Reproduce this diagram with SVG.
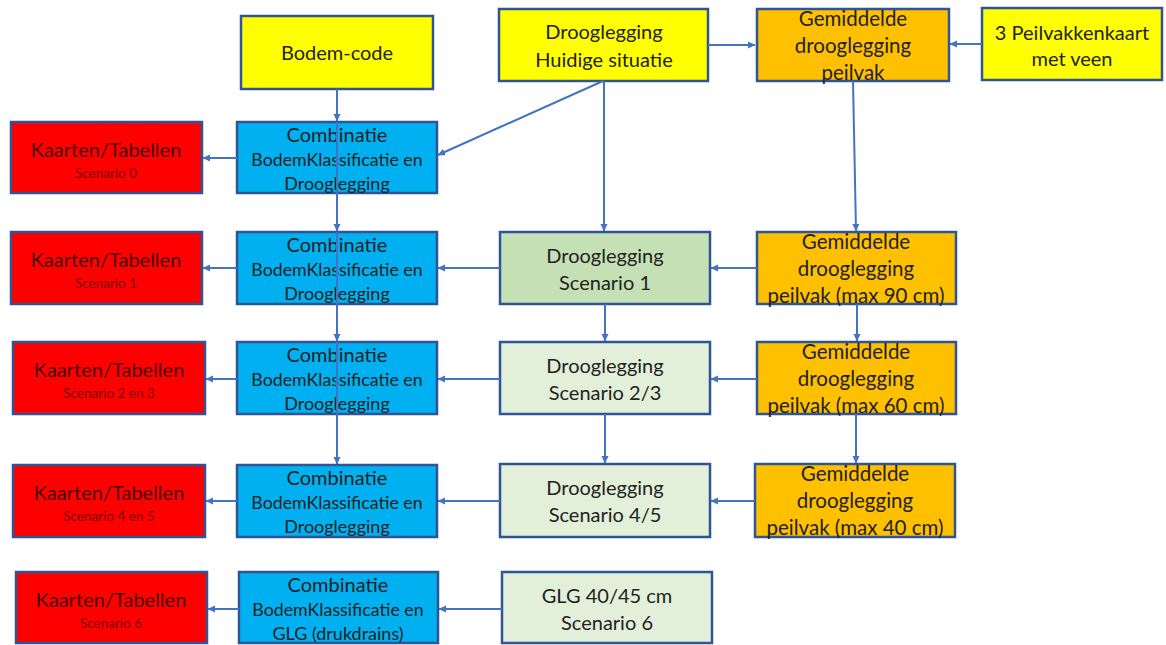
<svg xmlns="http://www.w3.org/2000/svg" width="1166" height="645" viewBox="0 0 1166 645">
<defs>
<marker id="ah" markerWidth="8" markerHeight="8" refX="7" refY="4" orient="auto" markerUnits="userSpaceOnUse">
<path d="M0,0.5 L7.5,4 L0,7.5 Z" fill="#4472C4"/>
</marker>
<style>
rect{stroke:#2F5597;stroke-width:2.5}
.y{fill:#FFFF00}.o{fill:#FFC000}.b{fill:#00B0F0}.r{fill:#FF0000}.g1{fill:#C5E0B4}.g2{fill:#E2F0D9}
text{font-family:Lato,"Liberation Sans",sans-serif;text-anchor:middle;fill:#222222}
.t18{font-size:20px}.t19{font-size:20px}.t16{font-size:17.8px}.t17{font-size:18px}.to{font-size:20.5px}
.kt{font-size:20px;fill:#4a0000}.ks{font-size:13.5px;fill:#7a0000}
.c path,.c line{stroke:#4472C4;stroke-width:2;fill:none;marker-end:url(#ah)}
</style>
</defs>
<rect width="1166" height="645" fill="#ffffff" style="stroke:none"/>

<g id="bodemcode"><rect class="y" x="241" y="16" width="192" height="73"/><text class="t18" x="337" y="60">Bodem-code</text></g>
<g id="droog_huidig"><rect class="y" x="499" y="9" width="209" height="72"/><text class="t18" x="604" y="39">Drooglegging</text><text class="t18" x="604" y="67">Huidige situatie</text></g>
<g id="gem_peilvak"><rect class="o" x="757" y="9" width="192" height="72"/><text class="to" x="853" y="26">Gemiddelde</text><text class="to" x="853" y="53">drooglegging</text><text class="to" x="853" y="80">peilvak</text></g>
<g id="peilvakkenkaart"><rect class="y" x="982" y="8" width="180" height="72"/><text class="t18" x="1072" y="40">3 Peilvakkenkaart</text><text class="t18" x="1072" y="66">met veen</text></g>

<g id="kaart0"><rect class="r" x="11" y="122" width="191" height="71"/><text class="kt" x="106" y="157">Kaarten/Tabellen</text><text class="ks" x="106" y="178">Scenario 0</text></g>
<g id="comb0"><rect class="b" x="237" y="122" width="200" height="71"/><text class="t19" x="337" y="142">Combinatie</text><text class="t16" x="337" y="166">BodemKlassificatie en</text><text class="t17" x="337" y="190">Drooglegging</text></g>

<g id="kaart1"><rect class="r" x="11" y="232" width="191" height="72"/><text class="kt" x="106" y="267">Kaarten/Tabellen</text><text class="ks" x="106" y="288">Scenario 1</text></g>
<g id="comb1"><rect class="b" x="237" y="232" width="200" height="72"/><text class="t19" x="337" y="252">Combinatie</text><text class="t16" x="337" y="276">BodemKlassificatie en</text><text class="t17" x="337" y="300">Drooglegging</text></g>
<g id="droog1"><rect class="g1" x="500" y="232" width="210" height="72"/><text class="t18" x="605" y="263">Drooglegging</text><text class="t18" x="605" y="290">Scenario 1</text></g>
<g id="gem90"><rect class="o" x="757" y="232" width="199" height="72"/><text class="to" x="856" y="249">Gemiddelde</text><text class="to" x="856" y="276">drooglegging</text><text class="to" x="856" y="303">peilvak (max 90 cm)</text></g>

<g id="kaart2"><rect class="r" x="13" y="342" width="192" height="72"/><text class="kt" x="109" y="377">Kaarten/Tabellen</text><text class="ks" x="109" y="398">Scenario 2 en 3</text></g>
<g id="comb2"><rect class="b" x="237" y="342" width="200" height="72"/><text class="t19" x="337" y="362">Combinatie</text><text class="t16" x="337" y="386">BodemKlassificatie en</text><text class="t17" x="337" y="410">Drooglegging</text></g>
<g id="droog23"><rect class="g2" x="500" y="342" width="210" height="72"/><text class="t18" x="605" y="373">Drooglegging</text><text class="t18" x="605" y="400">Scenario 2/3</text></g>
<g id="gem60"><rect class="o" x="757" y="342" width="199" height="72"/><text class="to" x="856" y="359">Gemiddelde</text><text class="to" x="856" y="386">drooglegging</text><text class="to" x="856" y="413">peilvak (max 60 cm)</text></g>

<g id="kaart3"><rect class="r" x="13" y="465" width="192" height="72"/><text class="kt" x="109" y="500">Kaarten/Tabellen</text><text class="ks" x="109" y="521">Scenario 4 en 5</text></g>
<g id="comb3"><rect class="b" x="237" y="465" width="200" height="72"/><text class="t19" x="337" y="485">Combinatie</text><text class="t16" x="337" y="509">BodemKlassificatie en</text><text class="t17" x="337" y="533">Drooglegging</text></g>
<g id="droog45"><rect class="g2" x="500" y="464" width="210" height="73"/><text class="t18" x="605" y="495">Drooglegging</text><text class="t18" x="605" y="522">Scenario 4/5</text></g>
<g id="gem40"><rect class="o" x="755" y="464" width="200" height="73"/><text class="to" x="855" y="481">Gemiddelde</text><text class="to" x="855" y="508">drooglegging</text><text class="to" x="855" y="535">peilvak (max 40 cm)</text></g>

<g id="kaart4"><rect class="r" x="16" y="572" width="191" height="71"/><text class="kt" x="111" y="607">Kaarten/Tabellen</text><text class="ks" x="111" y="628">Scenario 6</text></g>
<g id="comb4"><rect class="b" x="239" y="572" width="199" height="71"/><text class="t19" x="338" y="592">Combinatie</text><text class="t16" x="338" y="616">BodemKlassificatie en</text><text class="t17" x="338" y="640">GLG (drukdrains)</text></g>
<g id="glg"><rect class="g2" x="502" y="572" width="210" height="71"/><text class="t18" x="607" y="603">GLG 40/45 cm</text><text class="t18" x="607" y="630">Scenario 6</text></g>

<g id="connectors" class="c">
<line x1="708" y1="45" x2="755" y2="45"/>
<line x1="982" y1="44" x2="950" y2="44"/>
<line x1="603" y1="81" x2="438" y2="155"/>
<line x1="604" y1="81" x2="604" y2="231"/>
<line x1="853" y1="81" x2="856" y2="231"/>
<line x1="337" y1="89" x2="337" y2="121"/>
<line x1="337" y1="122" x2="337" y2="231"/>
<line x1="337" y1="232" x2="337" y2="341"/>
<line x1="337" y1="342" x2="337" y2="464"/>
<line x1="237" y1="158" x2="203" y2="158"/>
<line x1="757" y1="268" x2="711" y2="268"/>
<line x1="500" y1="268" x2="438" y2="268"/>
<line x1="237" y1="268" x2="203" y2="268"/>
<line x1="605" y1="304" x2="605" y2="341"/>
<line x1="857" y1="304" x2="857" y2="341"/>
<line x1="757" y1="379" x2="711" y2="379"/>
<line x1="500" y1="379" x2="438" y2="379"/>
<line x1="237" y1="379" x2="206" y2="379"/>
<line x1="605" y1="414" x2="605" y2="463"/>
<line x1="856" y1="414" x2="856" y2="463"/>
<line x1="755" y1="501" x2="711" y2="501"/>
<line x1="500" y1="501" x2="438" y2="501"/>
<line x1="237" y1="501" x2="206" y2="501"/>
<line x1="502" y1="609" x2="439" y2="609"/>
<line x1="239" y1="609" x2="208" y2="609"/>
</g>
</svg>
